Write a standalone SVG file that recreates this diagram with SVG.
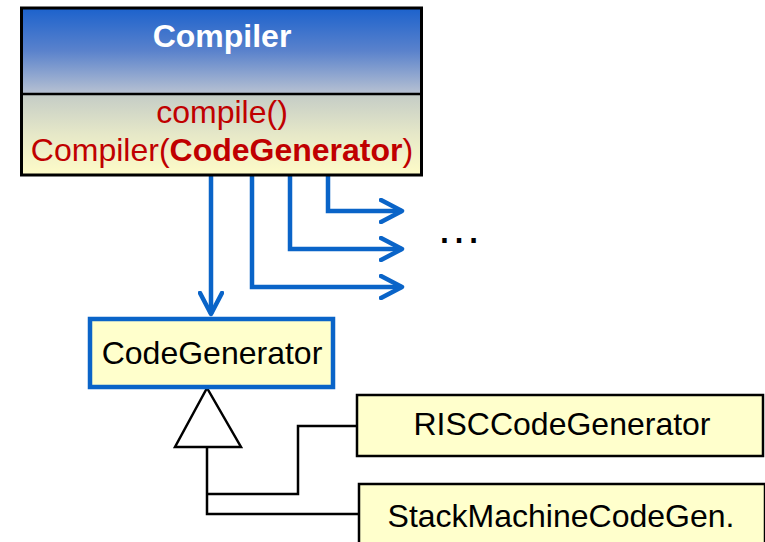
<svg xmlns="http://www.w3.org/2000/svg" width="765" height="542" viewBox="0 0 765 542">
<defs>
<linearGradient id="gHead" x1="0" y1="0" x2="0" y2="1">
<stop offset="0" stop-color="#1c62cc"/>
<stop offset="0.5" stop-color="#5a82cc"/>
<stop offset="1" stop-color="#b8c2d2"/>
</linearGradient>
<linearGradient id="gBody" x1="0" y1="0" x2="0" y2="1">
<stop offset="0" stop-color="#c4ccc6"/>
<stop offset="0.5" stop-color="#e6e8c8"/>
<stop offset="1" stop-color="#fefcc8"/>
</linearGradient>
<marker id="arr" viewBox="0 0 26 26" refX="23" refY="13" markerWidth="26" markerHeight="26" markerUnits="userSpaceOnUse" orient="auto">
<path d="M2,2 L23,13 L2,24" fill="none" stroke="#0a64c8" stroke-width="4.5" stroke-linecap="round" stroke-linejoin="round"/>
</marker>
<style>
.t{font-family:"Liberation Sans",Arial,sans-serif;text-anchor:middle;font-size:32px}
.blue{fill:none;stroke:#0a64c8;stroke-width:4.5}
.blk{fill:none;stroke:#000;stroke-width:2.5}
.box{fill:#ffffcc;stroke:#000;stroke-width:2.5}
</style>
</defs>
<g id="connectors">
<path class="blue" d="M211,176 V314" marker-end="url(#arr)"/>
<path class="blue" d="M328,176 V211 H402" marker-end="url(#arr)"/>
<path class="blue" d="M290,176 V249 H402" marker-end="url(#arr)"/>
<path class="blue" d="M252,176 V287 H402" marker-end="url(#arr)"/>
<path class="blk" d="M207,447 V514 H358"/>
<path class="blk" d="M207,494 H298 V426 H356"/>
<polygon points="207,388 175,447 241,447" fill="#fff" stroke="#000" stroke-width="2.5"/>
</g>
<g id="compiler">
<rect x="21.5" y="8" width="400" height="86" fill="url(#gHead)"/>
<rect x="21.5" y="94" width="400" height="81" fill="url(#gBody)"/>
<rect x="21.5" y="8" width="400" height="167" fill="none" stroke="#000" stroke-width="3"/>
<line x1="21.5" y1="94" x2="421.5" y2="94" stroke="#000" stroke-width="2.5"/>
<text class="t" x="222" y="47" font-weight="bold" fill="#fff">Compiler</text>
<text class="t" x="222" y="123" fill="#c00000">compile()</text>
<text class="t" x="222" y="161" fill="#c00000">Compiler(<tspan font-weight="bold">CodeGenerator</tspan>)</text>
</g>
<g id="ellipsis">
<text x="436" y="243" font-family="Liberation Sans,Arial,sans-serif" font-size="46" fill="#000">…</text>
</g>
<g id="codegenerator">
<rect x="90" y="319" width="243" height="68" fill="#ffffcc" stroke="#0a64c8" stroke-width="4.5"/>
<text class="t" x="212" y="364" fill="#000">CodeGenerator</text>
</g>
<g id="risc">
<rect class="box" x="357" y="395" width="406" height="61"/>
<text class="t" x="562" y="435" fill="#000">RISCCodeGenerator</text>
</g>
<g id="stack">
<rect class="box" x="359" y="484" width="406" height="70"/>
<text class="t" x="561" y="527" fill="#000">StackMachineCodeGen.</text>
</g>
</svg>
